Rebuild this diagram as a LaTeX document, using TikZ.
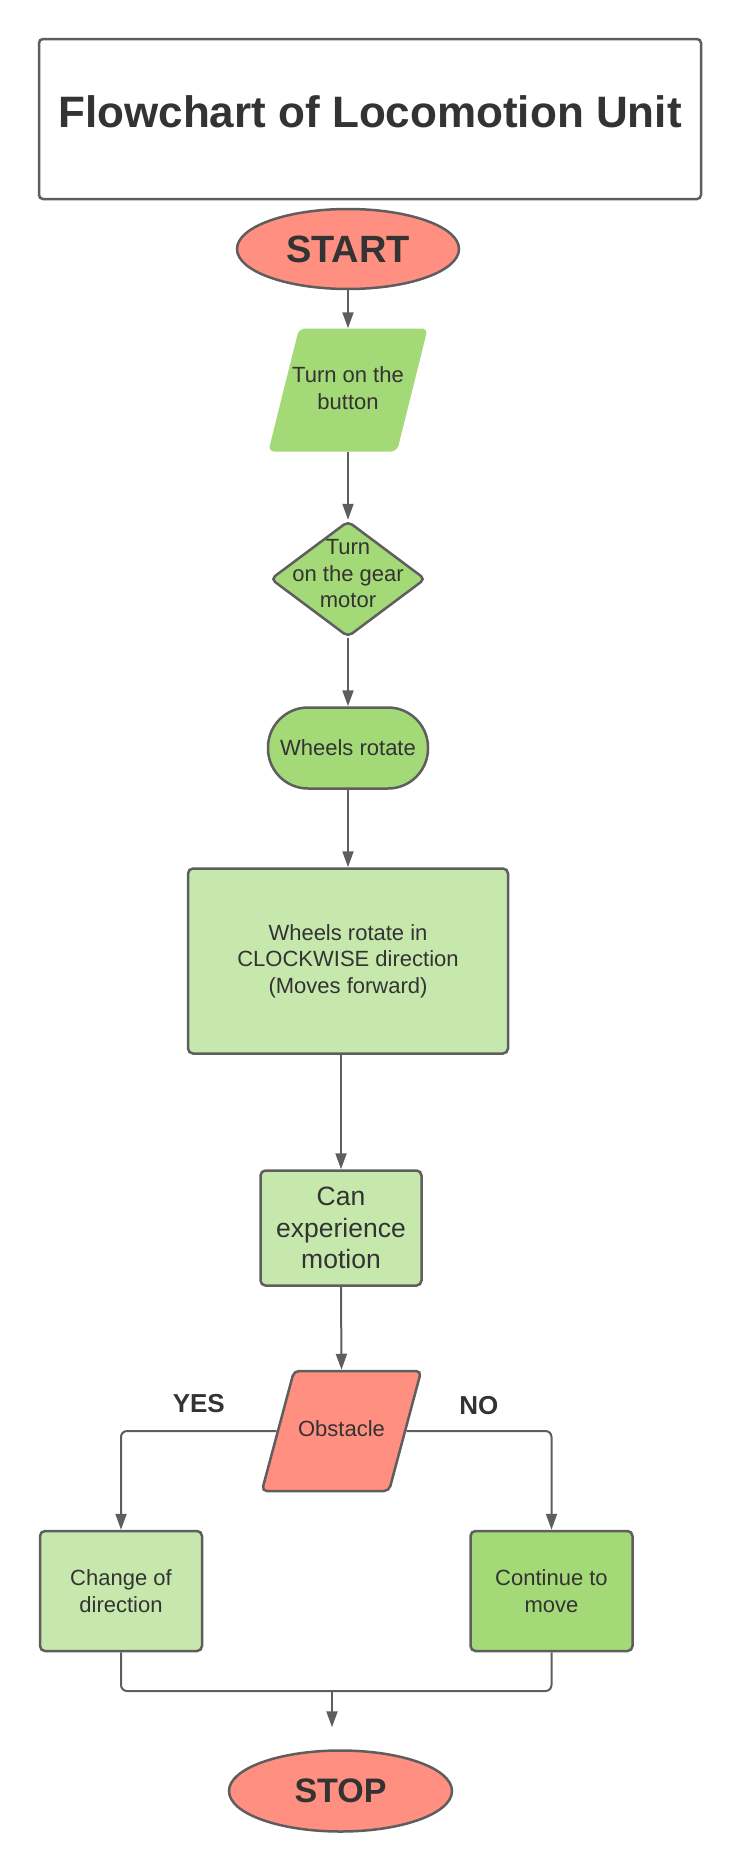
\documentclass[tikz,border=0pt]{standalone}
\usepackage{fontspec}
\setmainfont{Liberation Sans}
\usetikzlibrary{arrows.meta, shapes.geometric, positioning, calc}
\definecolor{LineGray}{HTML}{5E5E5E}
\definecolor{TextGray}{HTML}{333333}
\definecolor{Salmon}{HTML}{FF8F80}
\definecolor{LeafGreen}{HTML}{A3D977}
\definecolor{PaleGreen}{HTML}{C7E8AC}

\begin{document}
\begin{tikzpicture}[x=1pt,y=-1pt,
    every node/.style={text=TextGray,align=center,inner sep=0pt},
    txt/.style={font=\fontsize{22}{26.5}\selectfont},
    term/.style={ellipse,draw=LineGray,line width=2.5pt,fill=Salmon,
                 minimum width=222pt,minimum height=80pt,
                 font=\bfseries\fontsize{38}{40}\selectfont},
    slant/.style={trapezium,trapezium left angle=76,trapezium right angle=104,
                  rounded corners=6pt},
    gbox/.style={draw=LineGray,line width=2.5pt,rounded corners=5pt,txt},
    arr/.style={-{Triangle[length=16pt,width=11pt]},LineGray,line width=2pt},
    lbl/.style={font=\bfseries\fontsize{26}{28}\selectfont}
  ]
  \useasboundingbox (0,0) rectangle (740,1871);
  \node[draw=LineGray,line width=2.5pt,rounded corners=4pt,minimum width=662pt,
        minimum height=160pt,text depth=14pt,font=\bfseries\fontsize{44}{48}\selectfont]
        (title) at (370,119) {Flowchart of Locomotion Unit};
  \node[term] (start) at (348,249) {START};
  \node[slant,fill=LeafGreen,inner xsep=49pt,inner ysep=61.5pt,
        label={[txt,yshift=2pt]center:{Turn on the\\button}}]
        (btn) at (348,390) {};
  \node[diamond,draw=LineGray,line width=2.5pt,fill=LeafGreen,rounded corners=5pt,
        minimum width=155pt,minimum height=116pt,
        label={[txt,yshift=5pt]center:{Turn\\on the gear\\motor}}]
        (gear) at (348,579) {};
  \node[gbox,fill=LeafGreen,rounded corners=40pt,minimum width=160pt,
        minimum height=81pt] (wheels) at (348,748) {Wheels rotate};
  \node[gbox,fill=PaleGreen,minimum width=320pt,minimum height=185pt]
        (cw) at (348,961) {Wheels rotate in\\CLOCKWISE direction\\(Moves forward)};
  \node[gbox,fill=PaleGreen,minimum width=161pt,minimum height=115pt,
        font=\fontsize{26.5}{31.7}\selectfont]
        (can) at (341,1228) {Can\\experience\\motion};
  \node[slant,draw=LineGray,line width=2.5pt,fill=Salmon,rounded corners=5pt,
        trapezium left angle=75,trapezium right angle=105,
        inner xsep=47.5pt,inner ysep=60pt,
        label={[txt,yshift=2pt]center:Obstacle}] (obs) at (341.5,1431) {};
  \node[gbox,fill=PaleGreen,minimum width=162pt,minimum height=120pt]
        (chg) at (121,1591) {Change of\\direction};
  \node[gbox,fill=LeafGreen,minimum width=162pt,minimum height=120pt]
        (cont) at (551.5,1591) {Continue to\\move};
  \node[term,minimum width=223pt,minimum height=81pt,
        font=\bfseries\fontsize{34}{36}\selectfont] (stop) at (340.5,1791) {STOP};
  \coordinate (merge) at (332,1691);

  \draw[arr] (start.south) -- (btn.north);
  \draw[arr] (btn.south) -- (gear.north);
  \draw[arr] (gear.south) -- (wheels.north);
  \draw[arr] (wheels.south) -- (cw.north);
  \draw[arr] (can.north |- cw.south) -- (can.north);
  \draw[arr] (can.south) -- (obs.north);
  \draw[arr,rounded corners=6pt] (obs.left side) -| node[pos=0.25,above=17pt,lbl]{YES} (chg.north);
  \draw[arr,rounded corners=6pt] (obs.right side) -| node[pos=0.25,above=15pt,lbl]{NO} (cont.north);
  \draw[LineGray,line width=2pt,rounded corners=6pt] (chg.south) |- (merge) -| (cont.south);
  \draw[arr,shorten >=22pt] (merge) -- (merge |- stop.north);
\end{tikzpicture}
\end{document}
